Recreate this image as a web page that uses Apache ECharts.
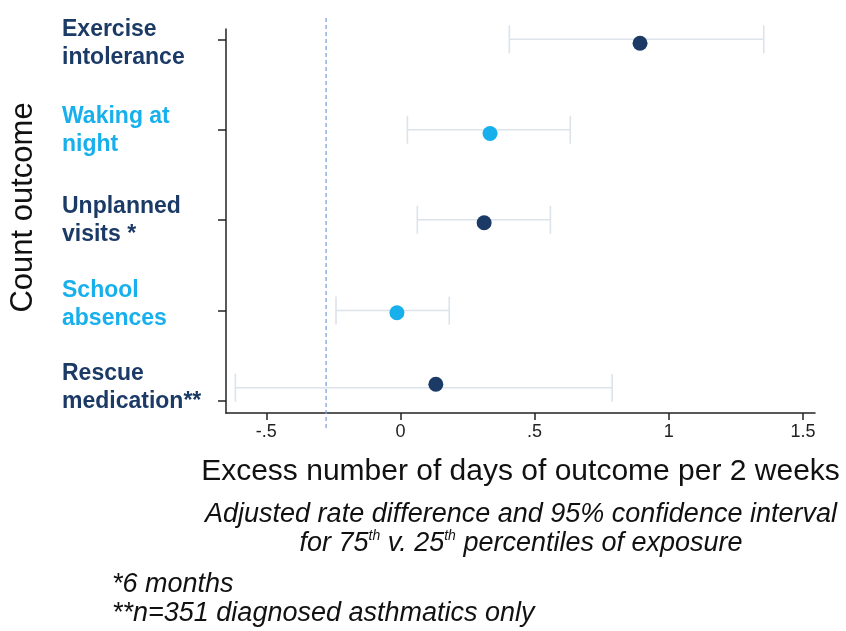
<!DOCTYPE html>
<html>
<head>
    <meta charset="utf-8">
    <title>Count outcome</title>
    <script src="https://cdn.jsdelivr.net/npm/echarts@6/dist/echarts.min.js"></script>
    <style>
        html, body {
            margin: 0;
            padding: 0;
            background: #fff;
        }

        #main {
            width: 846px;
            height: 631px;
        }
    </style>
</head>
<body>
<div id="main"></div>
<script>
    // outcomes, top to bottom
    var outcomes = ['Exercise\nintolerance', 'Waking at\nnight', 'Unplanned\nvisits *', 'School\nabsences', 'Rescue\nmedication**'];
    // adjusted rate difference + 95% CI
    var estimate = [0.893, 0.334, 0.312, -0.013, 0.132];
    var ciLow = [0.406, 0.026, 0.063, -0.240, -0.615];
    var ciHigh = [1.354, 0.633, 0.559, 0.182, 0.789];
    // row positions on the y scale (5 = top row)
    var rowTick = [5, 4, 3, 2, 1];
    var ciRow = [5, 4, 3.004, 2, 1.147];
    var dotRow = [4.956, 3.959, 2.971, 1.975, 1.185];
    var labelRow = [4.956, 3.985, 2.99, 2.062, 1.149];
    // x ticks
    var xTicks = [-0.5, 0, 0.5, 1, 1.5];
    var xTickLabels = ['-.5', '0', '.5', '1', '1.5'];
    // dashed reference line
    var refLine = -0.277;

    var NAVY = '#1b3a66';
    var CYAN = '#17afec';
    var FONT = 'Liberation Sans, Arial, sans-serif';

    var myChart = echarts.init(document.getElementById('main'));

    var ciData = [];
    var navyDots = [];
    var cyanDots = [];
    for (var i = 0; i < outcomes.length; i++) {
        ciData.push([ciLow[i], ciHigh[i], ciRow[i]]);
        if (i % 2 === 0) {
            navyDots.push([estimate[i], dotRow[i]]);
        } else {
            cyanDots.push([estimate[i], dotRow[i]]);
        }
    }

    function rowLabel(v) {
        for (var i = 0; i < labelRow.length; i++) {
            if (Math.abs(labelRow[i] - v) < 1e-6) {
                var style = i % 2 === 0 ? 'n' : 'c';
                return outcomes[i].split('\n').map(function (s) {
                    return '{' + style + '|' + s + '}';
                }).join('\n');
            }
        }
        return '';
    }

    var option = {
        animation: false,
        backgroundColor: '#fff',
        grid: {
            left: 226,
            right: 31,
            top: 29,
            bottom: 218,
            outerBoundsMode: 'none'
        },
        xAxis: {
            type: 'value',
            min: -0.65,
            max: 1.545,
            splitLine: {show: false},
            axisLine: {show: true, onZero: false, lineStyle: {color: '#222', width: 1.5}},
            axisTick: {show: true, length: 7, customValues: xTicks, lineStyle: {color: '#222', width: 1.5}},
            axisLabel: {
                customValues: xTicks,
                margin: 10,
                fontSize: 18,
                fontFamily: FONT,
                color: '#222',
                formatter: function (v) {
                    var k = xTicks.indexOf(v);
                    return k >= 0 ? xTickLabels[k] : '';
                }
            },
            name: 'Excess number of days of outcome per 2 weeks',
            nameLocation: 'middle',
            nameGap: 44,
            nameTextStyle: {fontSize: 30, fontFamily: FONT, color: '#111'}
        },
        yAxis: {
            type: 'value',
            min: 0.867,
            max: 5.114,
            splitLine: {show: false},
            axisLine: {show: true, onZero: false, lineStyle: {color: '#222', width: 1.5}},
            axisTick: {show: true, length: 8, customValues: rowTick, lineStyle: {color: '#222', width: 1.5}},
            axisLabel: {
                customValues: labelRow,
                align: 'left',
                margin: 164,
                formatter: rowLabel,
                rich: {
                    n: {color: NAVY, fontSize: 23, fontWeight: 'bold', fontFamily: FONT, lineHeight: 28},
                    c: {color: CYAN, fontSize: 23, fontWeight: 'bold', fontFamily: FONT, lineHeight: 28}
                }
            },
            name: 'Count outcome',
            nameLocation: 'middle',
            nameRotate: 90,
            nameGap: 187,
            nameTextStyle: {fontSize: 31, fontFamily: FONT, color: '#111', padding: [0, 0, 0, 27]}
        },
        series: [
            {
                // dashed reference line, runs past the plot box
                type: 'line',
                clip: false,
                silent: true,
                symbol: 'none',
                data: [[refLine, 0.70], [refLine, 5.27]],
                lineStyle: {color: '#7fa5d3', width: 1.3, type: [4, 3]},
                z: 1
            },
            {
                // confidence intervals
                type: 'custom',
                data: ciData,
                z: 2,
                renderItem: function (params, api) {
                    var a = api.coord([api.value(0), api.value(2)]);
                    var b = api.coord([api.value(1), api.value(2)]);
                    var cap = 14;
                    var st = {stroke: '#dce3eb', lineWidth: 1.6};
                    return {
                        type: 'group',
                        children: [
                            {type: 'line', shape: {x1: a[0], y1: a[1], x2: b[0], y2: b[1]}, style: st},
                            {type: 'line', shape: {x1: a[0], y1: a[1] - cap, x2: a[0], y2: a[1] + cap}, style: st},
                            {type: 'line', shape: {x1: b[0], y1: b[1] - cap, x2: b[0], y2: b[1] + cap}, style: st}
                        ]
                    };
                }
            },
            {
                type: 'scatter',
                data: navyDots,
                symbolSize: 15,
                itemStyle: {color: NAVY, opacity: 1},
                z: 3
            },
            {
                type: 'scatter',
                data: cyanDots,
                symbolSize: 15,
                itemStyle: {color: CYAN, opacity: 1},
                z: 3
            }
        ],
        graphic: [
            {
                type: 'text',
                x: 521,
                y: 500,
                style: {
                    text: '{i|Adjusted rate difference and 95% confidence interval}\n' +
                        '{i|for 75}{s|th}{i| v. 25}{s|th}{i| percentiles of exposure}',
                    align: 'center',
                    verticalAlign: 'top',
                    fontFamily: FONT,
                    fill: '#111',
                    rich: {
                        i: {fontSize: 27, fontStyle: 'italic', fontFamily: FONT, lineHeight: 29, fill: '#111'},
                        s: {fontSize: 14, fontStyle: 'italic', fontFamily: FONT, lineHeight: 29, verticalAlign: 'top', fill: '#111'}
                    }
                }
            },
            {
                type: 'text',
                x: 112,
                y: 570,
                style: {
                    text: '*6 months\n**n=351 diagnosed asthmatics only',
                    fontSize: 27,
                    fontStyle: 'italic',
                    fontFamily: FONT,
                    lineHeight: 29,
                    fill: '#111'
                }
            }
        ]
    };
    myChart.setOption(option);
</script>
</body>
</html>
